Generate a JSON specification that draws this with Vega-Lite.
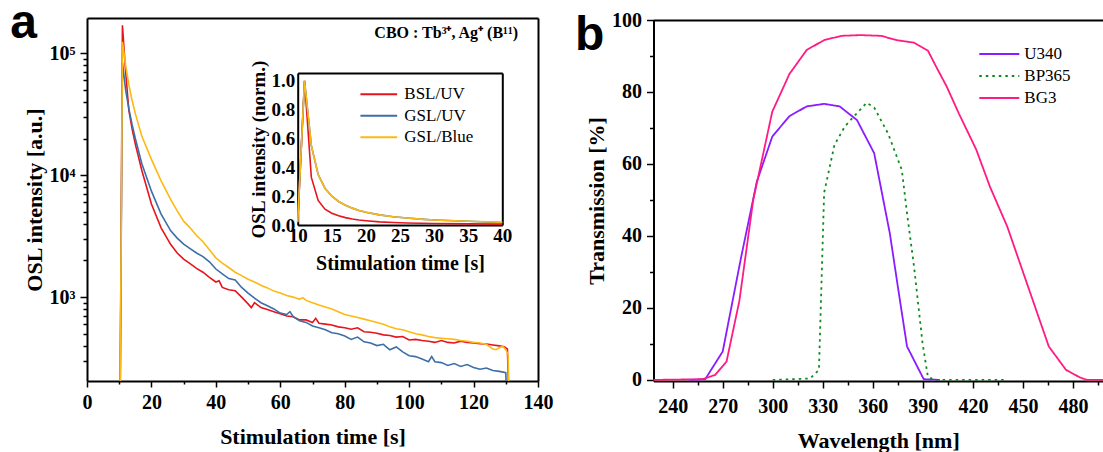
{
"$schema": "https://vega.github.io/schema/vega-lite/v6.json",
"autosize": "none",
"width": 1016,
"height": 363,
"padding": {"left": 87, "top": 18, "right": 0, "bottom": 71},
"background": "white",
"config": {
  "view": {"stroke": null},
  "axis": {"domainColor": "black", "domainWidth": 2, "tickColor": "black", "tickWidth": 1.5, "labelFont": "Liberation Serif", "labelFontWeight": "bold", "labelColor": "black", "titleFont": "Liberation Serif", "titleFontWeight": "bold", "titleColor": "black", "grid": false, "labelFlush": false, "labelOverlap": false, "labelBound": false},
  "legend": {"labelFont": "Liberation Serif", "labelFontSize": 17, "labelColor": "black", "symbolType": "stroke", "padding": 0, "title": null}
},
"datasets": {
  "main": [
    {"s":"BSL/UV","t":10,"v":10},{"s":"BSL/UV","t":11,"v":170000},{"s":"BSL/UV","t":12,"v":70000},{"s":"BSL/UV","t":13,"v":34000},{"s":"BSL/UV","t":14,"v":24000},{"s":"BSL/UV","t":15,"v":18000},{"s":"BSL/UV","t":17,"v":11000},{"s":"BSL/UV","t":20,"v":5800},{"s":"BSL/UV","t":23,"v":3700},{"s":"BSL/UV","t":26,"v":2700},{"s":"BSL/UV","t":28,"v":2300},{"s":"BSL/UV","t":30,"v":2050},{"s":"BSL/UV","t":32,"v":1880},{"s":"BSL/UV","t":34,"v":1720},{"s":"BSL/UV","t":36,"v":1600},{"s":"BSL/UV","t":38,"v":1450},{"s":"BSL/UV","t":40,"v":1330},{"s":"BSL/UV","t":41,"v":1360},{"s":"BSL/UV","t":42,"v":1200},{"s":"BSL/UV","t":44,"v":1150},{"s":"BSL/UV","t":46,"v":1130},{"s":"BSL/UV","t":48,"v":1000},{"s":"BSL/UV","t":50,"v":880},{"s":"BSL/UV","t":51,"v":820},{"s":"BSL/UV","t":52,"v":900},{"s":"BSL/UV","t":54,"v":820},{"s":"BSL/UV","t":56,"v":790},{"s":"BSL/UV","t":58,"v":760},{"s":"BSL/UV","t":60,"v":730},{"s":"BSL/UV","t":62,"v":700},{"s":"BSL/UV","t":64,"v":690},{"s":"BSL/UV","t":66,"v":650},{"s":"BSL/UV","t":68,"v":650},{"s":"BSL/UV","t":70,"v":620},{"s":"BSL/UV","t":71,"v":670},{"s":"BSL/UV","t":72,"v":610},{"s":"BSL/UV","t":74,"v":600},{"s":"BSL/UV","t":76,"v":590},{"s":"BSL/UV","t":78,"v":570},{"s":"BSL/UV","t":80,"v":560},{"s":"BSL/UV","t":82,"v":545},{"s":"BSL/UV","t":84,"v":560},{"s":"BSL/UV","t":86,"v":520},{"s":"BSL/UV","t":88,"v":515},{"s":"BSL/UV","t":90,"v":505},{"s":"BSL/UV","t":92,"v":490},{"s":"BSL/UV","t":94,"v":485},{"s":"BSL/UV","t":96,"v":470},{"s":"BSL/UV","t":98,"v":475},{"s":"BSL/UV","t":100,"v":445},{"s":"BSL/UV","t":102,"v":450},{"s":"BSL/UV","t":104,"v":440},{"s":"BSL/UV","t":106,"v":435},{"s":"BSL/UV","t":108,"v":425},{"s":"BSL/UV","t":110,"v":440},{"s":"BSL/UV","t":112,"v":425},{"s":"BSL/UV","t":114,"v":420},{"s":"BSL/UV","t":116,"v":435},{"s":"BSL/UV","t":118,"v":425},{"s":"BSL/UV","t":120,"v":420},{"s":"BSL/UV","t":122,"v":415},{"s":"BSL/UV","t":124,"v":412},{"s":"BSL/UV","t":126,"v":405},{"s":"BSL/UV","t":128,"v":398},{"s":"BSL/UV","t":129.5,"v":392},{"s":"BSL/UV","t":130.5,"v":375},{"s":"BSL/UV","t":131.5,"v":50},
    {"s":"GSL/UV","t":10,"v":10},{"s":"GSL/UV","t":11,"v":84000},{"s":"GSL/UV","t":12,"v":50000},{"s":"GSL/UV","t":13,"v":35000},{"s":"GSL/UV","t":14,"v":26000},{"s":"GSL/UV","t":15,"v":20000},{"s":"GSL/UV","t":17,"v":12500},{"s":"GSL/UV","t":20,"v":7400},{"s":"GSL/UV","t":23,"v":4800},{"s":"GSL/UV","t":26,"v":3500},{"s":"GSL/UV","t":28,"v":3050},{"s":"GSL/UV","t":30,"v":2720},{"s":"GSL/UV","t":32,"v":2500},{"s":"GSL/UV","t":34,"v":2300},{"s":"GSL/UV","t":36,"v":2150},{"s":"GSL/UV","t":38,"v":1950},{"s":"GSL/UV","t":40,"v":1700},{"s":"GSL/UV","t":42,"v":1550},{"s":"GSL/UV","t":44,"v":1420},{"s":"GSL/UV","t":46,"v":1380},{"s":"GSL/UV","t":48,"v":1200},{"s":"GSL/UV","t":50,"v":1080},{"s":"GSL/UV","t":52,"v":980},{"s":"GSL/UV","t":54,"v":900},{"s":"GSL/UV","t":56,"v":850},{"s":"GSL/UV","t":58,"v":800},{"s":"GSL/UV","t":60,"v":740},{"s":"GSL/UV","t":62,"v":720},{"s":"GSL/UV","t":63,"v":760},{"s":"GSL/UV","t":64,"v":690},{"s":"GSL/UV","t":66,"v":640},{"s":"GSL/UV","t":68,"v":620},{"s":"GSL/UV","t":70,"v":580},{"s":"GSL/UV","t":72,"v":560},{"s":"GSL/UV","t":74,"v":540},{"s":"GSL/UV","t":76,"v":510},{"s":"GSL/UV","t":78,"v":500},{"s":"GSL/UV","t":80,"v":480},{"s":"GSL/UV","t":82,"v":450},{"s":"GSL/UV","t":84,"v":470},{"s":"GSL/UV","t":86,"v":430},{"s":"GSL/UV","t":88,"v":420},{"s":"GSL/UV","t":90,"v":400},{"s":"GSL/UV","t":92,"v":410},{"s":"GSL/UV","t":94,"v":370},{"s":"GSL/UV","t":96,"v":390},{"s":"GSL/UV","t":98,"v":355},{"s":"GSL/UV","t":100,"v":330},{"s":"GSL/UV","t":102,"v":325},{"s":"GSL/UV","t":104,"v":310},{"s":"GSL/UV","t":106,"v":295},{"s":"GSL/UV","t":107,"v":325},{"s":"GSL/UV","t":108,"v":295},{"s":"GSL/UV","t":110,"v":290},{"s":"GSL/UV","t":112,"v":275},{"s":"GSL/UV","t":114,"v":285},{"s":"GSL/UV","t":116,"v":270},{"s":"GSL/UV","t":118,"v":280},{"s":"GSL/UV","t":120,"v":265},{"s":"GSL/UV","t":122,"v":256},{"s":"GSL/UV","t":124,"v":262},{"s":"GSL/UV","t":126,"v":250},{"s":"GSL/UV","t":128,"v":246},{"s":"GSL/UV","t":130,"v":240},{"s":"GSL/UV","t":131,"v":50},
    {"s":"GSL/Blue","t":10,"v":10},{"s":"GSL/Blue","t":11,"v":124000},{"s":"GSL/Blue","t":12,"v":80000},{"s":"GSL/Blue","t":13,"v":55000},{"s":"GSL/Blue","t":14,"v":41000},{"s":"GSL/Blue","t":15,"v":32000},{"s":"GSL/Blue","t":17,"v":21000},{"s":"GSL/Blue","t":20,"v":13500},{"s":"GSL/Blue","t":23,"v":9000},{"s":"GSL/Blue","t":26,"v":6300},{"s":"GSL/Blue","t":28,"v":5100},{"s":"GSL/Blue","t":30,"v":4200},{"s":"GSL/Blue","t":32,"v":3700},{"s":"GSL/Blue","t":34,"v":3200},{"s":"GSL/Blue","t":36,"v":2850},{"s":"GSL/Blue","t":38,"v":2450},{"s":"GSL/Blue","t":40,"v":2100},{"s":"GSL/Blue","t":42,"v":1900},{"s":"GSL/Blue","t":44,"v":1750},{"s":"GSL/Blue","t":46,"v":1600},{"s":"GSL/Blue","t":48,"v":1500},{"s":"GSL/Blue","t":50,"v":1400},{"s":"GSL/Blue","t":52,"v":1330},{"s":"GSL/Blue","t":54,"v":1250},{"s":"GSL/Blue","t":56,"v":1190},{"s":"GSL/Blue","t":58,"v":1120},{"s":"GSL/Blue","t":60,"v":1080},{"s":"GSL/Blue","t":62,"v":1030},{"s":"GSL/Blue","t":64,"v":1000},{"s":"GSL/Blue","t":66,"v":960},{"s":"GSL/Blue","t":67,"v":990},{"s":"GSL/Blue","t":68,"v":940},{"s":"GSL/Blue","t":70,"v":900},{"s":"GSL/Blue","t":72,"v":860},{"s":"GSL/Blue","t":74,"v":830},{"s":"GSL/Blue","t":76,"v":800},{"s":"GSL/Blue","t":78,"v":760},{"s":"GSL/Blue","t":80,"v":720},{"s":"GSL/Blue","t":82,"v":700},{"s":"GSL/Blue","t":84,"v":680},{"s":"GSL/Blue","t":86,"v":660},{"s":"GSL/Blue","t":88,"v":640},{"s":"GSL/Blue","t":90,"v":620},{"s":"GSL/Blue","t":92,"v":600},{"s":"GSL/Blue","t":94,"v":570},{"s":"GSL/Blue","t":96,"v":550},{"s":"GSL/Blue","t":98,"v":540},{"s":"GSL/Blue","t":100,"v":520},{"s":"GSL/Blue","t":102,"v":500},{"s":"GSL/Blue","t":104,"v":490},{"s":"GSL/Blue","t":106,"v":475},{"s":"GSL/Blue","t":108,"v":465},{"s":"GSL/Blue","t":110,"v":460},{"s":"GSL/Blue","t":112,"v":455},{"s":"GSL/Blue","t":114,"v":450},{"s":"GSL/Blue","t":116,"v":440},{"s":"GSL/Blue","t":118,"v":435},{"s":"GSL/Blue","t":120,"v":425},{"s":"GSL/Blue","t":122,"v":420},{"s":"GSL/Blue","t":124,"v":410},{"s":"GSL/Blue","t":126,"v":375},{"s":"GSL/Blue","t":127,"v":370},{"s":"GSL/Blue","t":128,"v":385},{"s":"GSL/Blue","t":129,"v":395},{"s":"GSL/Blue","t":130,"v":370},{"s":"GSL/Blue","t":130.7,"v":340},{"s":"GSL/Blue","t":131.5,"v":50}
  ],
  "inset": [
    {"s":"BSL/UV","t":10,"v":0.02},{"s":"BSL/UV","t":11,"v":1.0},{"s":"BSL/UV","t":12,"v":0.33},{"s":"BSL/UV","t":13,"v":0.17},{"s":"BSL/UV","t":14,"v":0.11},{"s":"BSL/UV","t":15,"v":0.082},{"s":"BSL/UV","t":16,"v":0.064},{"s":"BSL/UV","t":17,"v":0.051},{"s":"BSL/UV","t":18,"v":0.042},{"s":"BSL/UV","t":19,"v":0.035},{"s":"BSL/UV","t":20,"v":0.03},{"s":"BSL/UV","t":22,"v":0.022},{"s":"BSL/UV","t":24,"v":0.017},{"s":"BSL/UV","t":26,"v":0.014},{"s":"BSL/UV","t":28,"v":0.012},{"s":"BSL/UV","t":30,"v":0.01},{"s":"BSL/UV","t":35,"v":0.008},{"s":"BSL/UV","t":40,"v":0.006},
    {"s":"GSL/UV","t":10,"v":0.02},{"s":"GSL/UV","t":11,"v":1.0},{"s":"GSL/UV","t":12,"v":0.55},{"s":"GSL/UV","t":13,"v":0.35},{"s":"GSL/UV","t":14,"v":0.255},{"s":"GSL/UV","t":15,"v":0.2},{"s":"GSL/UV","t":16,"v":0.163},{"s":"GSL/UV","t":17,"v":0.137},{"s":"GSL/UV","t":18,"v":0.117},{"s":"GSL/UV","t":19,"v":0.101},{"s":"GSL/UV","t":20,"v":0.088},{"s":"GSL/UV","t":22,"v":0.07},{"s":"GSL/UV","t":24,"v":0.057},{"s":"GSL/UV","t":26,"v":0.048},{"s":"GSL/UV","t":28,"v":0.041},{"s":"GSL/UV","t":30,"v":0.035},{"s":"GSL/UV","t":33,"v":0.029},{"s":"GSL/UV","t":36,"v":0.024},{"s":"GSL/UV","t":40,"v":0.016},
    {"s":"GSL/Blue","t":10,"v":0.02},{"s":"GSL/Blue","t":11,"v":1.0},{"s":"GSL/Blue","t":12,"v":0.55},{"s":"GSL/Blue","t":13,"v":0.35},{"s":"GSL/Blue","t":14,"v":0.255},{"s":"GSL/Blue","t":15,"v":0.2},{"s":"GSL/Blue","t":16,"v":0.163},{"s":"GSL/Blue","t":17,"v":0.137},{"s":"GSL/Blue","t":18,"v":0.117},{"s":"GSL/Blue","t":19,"v":0.101},{"s":"GSL/Blue","t":20,"v":0.088},{"s":"GSL/Blue","t":22,"v":0.07},{"s":"GSL/Blue","t":24,"v":0.057},{"s":"GSL/Blue","t":26,"v":0.048},{"s":"GSL/Blue","t":28,"v":0.041},{"s":"GSL/Blue","t":30,"v":0.035},{"s":"GSL/Blue","t":33,"v":0.029},{"s":"GSL/Blue","t":36,"v":0.024},{"s":"GSL/Blue","t":40,"v":0.02}
  ],
  "filters": [
    {"f":"U340","w":250,"T":0},{"f":"U340","w":259.5,"T":0.2},{"f":"U340","w":270,"T":7.9},{"f":"U340","w":281,"T":34},{"f":"U340","w":290.4,"T":55},{"f":"U340","w":299.7,"T":67.6},{"f":"U340","w":310,"T":73.3},{"f":"U340","w":320.4,"T":76},{"f":"U340","w":330.8,"T":76.7},{"f":"U340","w":340.1,"T":76},{"f":"U340","w":350.5,"T":72.2},{"f":"U340","w":360.8,"T":63},{"f":"U340","w":370.2,"T":40.7},{"f":"U340","w":375.3,"T":25},{"f":"U340","w":380.5,"T":9.3},{"f":"U340","w":390.5,"T":0.2},{"f":"U340","w":400.2,"T":0},
    {"f":"BP365","w":300,"T":0},{"f":"BP365","w":322.5,"T":0.4},{"f":"BP365","w":327.7,"T":2.8},{"f":"BP365","w":330.8,"T":52},{"f":"BP365","w":337,"T":65.3},{"f":"BP365","w":343.2,"T":70.4},{"f":"BP365","w":349.4,"T":73.6},{"f":"BP365","w":356.3,"T":77},{"f":"BP365","w":360.8,"T":75.7},{"f":"BP365","w":369.1,"T":68.5},{"f":"BP365","w":377.4,"T":58.3},{"f":"BP365","w":380.5,"T":46.3},{"f":"BP365","w":384.7,"T":31.5},{"f":"BP365","w":389.8,"T":10.2},{"f":"BP365","w":393,"T":0.9},{"f":"BP365","w":397.1,"T":0},{"f":"BP365","w":440,"T":0},
    {"f":"BG3","w":228.5,"T":0},{"f":"BG3","w":258,"T":0.2},{"f":"BG3","w":265.5,"T":1.4},{"f":"BG3","w":272.3,"T":5.1},{"f":"BG3","w":280,"T":22},{"f":"BG3","w":288.3,"T":50},{"f":"BG3","w":299.7,"T":74.5},{"f":"BG3","w":310,"T":85},{"f":"BG3","w":320.4,"T":91.7},{"f":"BG3","w":330.8,"T":94.4},{"f":"BG3","w":341.1,"T":95.6},{"f":"BG3","w":352.5,"T":95.8},{"f":"BG3","w":365,"T":95.6},{"f":"BG3","w":374.3,"T":94.4},{"f":"BG3","w":384.7,"T":93.7},{"f":"BG3","w":393,"T":91.5},{"f":"BG3","w":398,"T":87},{"f":"BG3","w":404.3,"T":81.5},{"f":"BG3","w":411.6,"T":74},{"f":"BG3","w":422,"T":64},{"f":"BG3","w":430.2,"T":53.7},{"f":"BG3","w":440.6,"T":42.6},{"f":"BG3","w":448.9,"T":31.5},{"f":"BG3","w":457.2,"T":20.4},{"f":"BG3","w":465.5,"T":9.3},{"f":"BG3","w":475.8,"T":2.8},{"f":"BG3","w":484.1,"T":0.7},{"f":"BG3","w":488.3,"T":0},{"f":"BG3","w":498,"T":0}
  ]
},
"resolve": {
  "scale": {"x": "independent", "y": "independent", "color": "independent", "strokeDash": "independent"},
  "axis": {"x": "independent", "y": "independent"},
  "legend": {"color": "independent", "strokeDash": "independent"}
},
"layer": [
  {
    "data": {"name": "main"},
    "mark": {"type": "line", "strokeWidth": 1.6, "clip": true},
    "encoding": {
      "x": {"field": "t", "type": "quantitative",
        "scale": {"domain": [0, 140], "range": [0, 451], "nice": false, "zero": false},
        "axis": {"orient": "bottom", "values": [0,10,20,30,40,50,60,70,80,90,100,110,120,130,140],
          "labelExpr": "datum.value % 20 == 0 ? datum.label : ''",
          "tickSize": {"condition": {"test": "datum.value % 20 == 0", "value": 6}, "value": 3},
          "labelFontSize": 20, "labelPadding": 5, "title": "Stimulation time [s]", "titleFontSize": 22, "titlePadding": 14}},
      "y": {"field": "v", "type": "quantitative",
        "scale": {"type": "log", "domain": [205, 195000], "range": [363, 0], "nice": false},
        "axis": {"orient": "left", "values": [300,400,500,600,700,800,900,1000,2000,3000,4000,5000,6000,7000,8000,9000,10000,20000,30000,40000,50000,60000,70000,80000,90000,100000],
          "labelExpr": "datum.value == 1000 ? '10³' : datum.value == 10000 ? '10⁴' : datum.value == 100000 ? '10⁵' : ''",
          "tickSize": {"condition": {"test": "datum.value == 1000 || datum.value == 10000 || datum.value == 100000", "value": 7}, "value": 4},
          "labelFontSize": 20, "labelPadding": 5, "title": "OSL intensity [a.u.]", "titleFontSize": 22, "titlePadding": 3}},
      "color": {"field": "s", "type": "nominal", "scale": {"domain": ["BSL/UV", "GSL/UV", "GSL/Blue"], "range": ["#e8141c", "#3d6ea8", "#fdb913"]}, "legend": null}
    }
  },
  {
    "data": {"name": "main"},
    "mark": {"type": "line", "opacity": 0},
    "encoding": {
      "x": {"field": "t", "type": "quantitative", "scale": {"domain": [0, 140], "range": [0, 451], "nice": false, "zero": false},
        "axis": {"orient": "top", "labels": false, "ticks": false, "title": null, "offset": 0}},
      "y": {"field": "v", "type": "quantitative", "scale": {"type": "log", "domain": [205, 195000], "range": [363, 0], "nice": false},
        "axis": {"orient": "right", "labels": false, "ticks": false, "title": null, "offset": -565}}
    }
  },
  {
    "data": {"name": "inset"},
    "mark": {"type": "line", "strokeWidth": 1.6, "clip": true},
    "encoding": {
      "x": {"field": "t", "type": "quantitative",
        "scale": {"domain": [10, 40], "range": [210.7, 415.3], "nice": false, "zero": false},
        "axis": {"orient": "bottom", "offset": -156, "values": [10,15,20,25,30,35,40], "ticks": false, "labelFontSize": 19, "labelPadding": 1, "title": "Stimulation time [s]", "titleFontSize": 20, "titlePadding": 8}},
      "y": {"field": "v", "type": "quantitative",
        "scale": {"domain": [0, 1.054], "range": [207, 55], "nice": false, "zero": false},
        "axis": {"orient": "left", "offset": -210.7, "values": [0, 0.2, 0.4, 0.6, 0.8, 1.0], "format": ".1f", "ticks": false, "labelFontSize": 19, "labelPadding": 3, "title": "OSL intensity (norm.)", "titleFontSize": 19, "titlePadding": 2}},
      "color": {"field": "s", "type": "nominal", "scale": {"domain": ["BSL/UV", "GSL/UV", "GSL/Blue"], "range": ["#e8141c", "#3d6ea8", "#fdb913"]},
        "legend": {"orient": "none", "legendX": 272.3, "legendY": 67.3, "symbolSize": 1350, "symbolStrokeWidth": 2, "clipHeight": 18, "labelOffset": 6, "rowPadding": 3.5, "labelFontSize": 17}}
    }
  },
  {
    "data": {"name": "inset"},
    "mark": {"type": "line", "opacity": 0},
    "encoding": {
      "x": {"field": "t", "type": "quantitative", "scale": {"domain": [10, 40], "range": [210.7, 415.3], "nice": false, "zero": false},
        "axis": {"orient": "top", "offset": -55, "labels": false, "ticks": false, "title": null}},
      "y": {"field": "v", "type": "quantitative", "scale": {"domain": [0, 1.054], "range": [207, 55], "nice": false, "zero": false},
        "axis": {"orient": "right", "offset": -600.7, "labels": false, "ticks": false, "title": null}}
    }
  },
  {
    "data": {"name": "filters"},
    "mark": {"type": "line", "strokeWidth": 1.8, "clip": true},
    "encoding": {
      "x": {"field": "w", "type": "quantitative",
        "scale": {"domain": [228.5, 498], "range": [566.5, 1016], "nice": false, "zero": false},
        "axis": {"orient": "bottom", "values": [240,255,270,285,300,315,330,345,360,375,390,405,420,435,450,465,480,495],
          "labelExpr": "datum.value % 30 == 0 ? datum.label : ''",
          "tickSize": {"condition": {"test": "datum.value % 30 == 0", "value": 7}, "value": 4},
          "labelFontSize": 20, "labelPadding": 8, "title": "Wavelength [nm]", "titleFontSize": 22, "titlePadding": 14}},
      "y": {"field": "T", "type": "quantitative",
        "scale": {"domain": [-0.3, 100], "range": [363, 2], "nice": false, "zero": false},
        "axis": {"orient": "left", "offset": -566.5, "values": [0,10,20,30,40,50,60,70,80,90,100],
          "labelExpr": "datum.value % 20 == 0 ? datum.label : ''",
          "tickSize": {"condition": {"test": "datum.value % 20 == 0", "value": 7}, "value": 4},
          "labelFontSize": 20, "labelPadding": 5, "title": "Transmission [%]", "titleFontSize": 22, "titlePadding": 3}},
      "color": {"field": "f", "type": "nominal", "scale": {"domain": ["U340", "BP365", "BG3"], "range": ["#8a1cff", "#0f8a1e", "#ff1a84"]},
        "legend": {"orient": "none", "legendX": 891.3, "legendY": 27, "symbolSize": 1600, "symbolStrokeWidth": 2, "clipHeight": 18, "labelOffset": 4, "rowPadding": 4, "labelFontSize": 17}},
      "strokeDash": {"field": "f", "type": "nominal", "scale": {"domain": ["U340", "BP365", "BG3"], "range": [[1, 0], [2.5, 4], [1, 0]]},
        "legend": {"orient": "none", "legendX": 891.3, "legendY": 27, "symbolSize": 1600, "symbolStrokeWidth": 2, "clipHeight": 18, "labelOffset": 4, "rowPadding": 4, "labelFontSize": 17}}
    }
  },
  {
    "data": {"name": "filters"},
    "mark": {"type": "line", "opacity": 0},
    "encoding": {
      "x": {"field": "w", "type": "quantitative", "scale": {"domain": [228.5, 498], "range": [566.5, 1016], "nice": false, "zero": false},
        "axis": {"orient": "top", "offset": -2, "labels": false, "ticks": false, "title": null}},
      "y": {"field": "T", "type": "quantitative", "scale": {"domain": [-0.3, 100], "range": [363, 2], "nice": false, "zero": false}, "axis": null}
    }
  },
  {
    "data": {"values": [{"label": "a"}]},
    "mark": {"type": "text", "font": "Liberation Sans", "fontWeight": "bold", "fontSize": 48, "align": "left", "baseline": "alphabetic", "color": "black"},
    "encoding": {
      "x": {"datum": -23.8, "type": "quantitative", "scale": {"domain": [0, 140], "range": [0, 451], "nice": false, "zero": false}, "axis": null},
      "y": {"datum": 134000, "type": "quantitative", "scale": {"type": "log", "domain": [205, 195000], "range": [363, 0], "nice": false}, "axis": null},
      "text": {"field": "label"}
    }
  },
  {
    "data": {"values": [{"label": "CBO : Tb³⁺, Ag⁺ (B¹¹)"}]},
    "mark": {"type": "text", "font": "Liberation Serif", "fontWeight": "bold", "fontSize": 16, "align": "right", "baseline": "alphabetic", "color": "black"},
    "encoding": {
      "x": {"datum": 133.8, "type": "quantitative", "scale": {"domain": [0, 140], "range": [0, 451], "nice": false, "zero": false}, "axis": null},
      "y": {"datum": 134000, "type": "quantitative", "scale": {"type": "log", "domain": [205, 195000], "range": [363, 0], "nice": false}, "axis": null},
      "text": {"field": "label"}
    }
  },
  {
    "data": {"values": [{"label": "b"}]},
    "mark": {"type": "text", "font": "Liberation Sans", "fontWeight": "bold", "fontSize": 48, "align": "left", "baseline": "alphabetic", "color": "black"},
    "encoding": {
      "x": {"datum": 181.4, "type": "quantitative", "scale": {"domain": [228.5, 498], "range": [566.5, 1016], "nice": false, "zero": false}, "axis": null},
      "y": {"datum": 91.8, "type": "quantitative", "scale": {"domain": [-0.3, 100], "range": [363, 2], "nice": false, "zero": false}, "axis": null},
      "text": {"field": "label"}
    }
  }
]
}
